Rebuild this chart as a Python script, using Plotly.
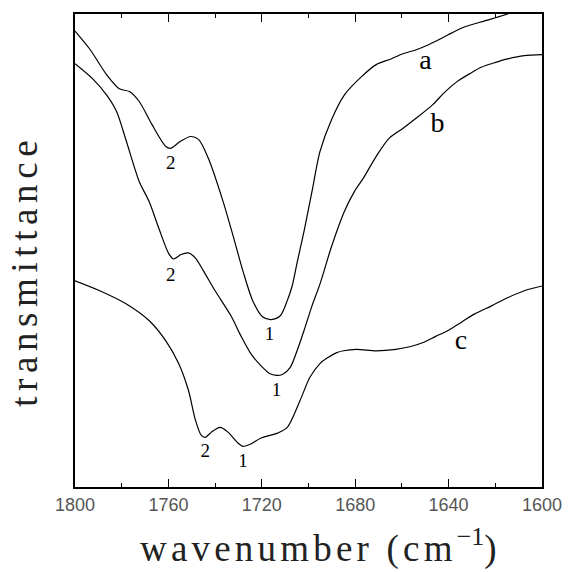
import plotly.graph_objects as go

# Spectra (wavenumber in cm^-1, transmittance in arbitrary units 0-100)
a_wn = [1800, 1793.7, 1786.5, 1781.0, 1776.7, 1772.5, 1767.0, 1761.1, 1759.0, 1754.8, 1750.5, 1747.1,
        1742.9, 1736.6, 1732.3, 1728.1, 1723.9, 1719.7, 1715.9, 1712.1, 1709.1, 1707.0, 1704.9, 1701.9,
        1698.5, 1695.1, 1690.1, 1684.6, 1677.4, 1671.0, 1664.7, 1659.6, 1654.1, 1648.6, 1643.6, 1640.2,
        1633.0, 1623.3, 1614.8, 1607.6, 1600]
a_t = [96.4, 92.6, 87.2, 84.2, 83.6, 81.5, 76.6, 72.0, 71.6, 73.1, 74.1, 73.5,
       69.5, 60.4, 53.1, 45.7, 39.4, 36.0, 35.4, 36.2, 39.4, 42.5, 47.4, 54.1,
       62.5, 70.9, 77.7, 82.9, 86.7, 89.3, 90.5, 91.6, 92.4, 93.5, 94.7, 95.6,
       97.3, 98.7, 100.0, 101.3, 102.5]

b_wn = [1800, 1792.4, 1786.5, 1782.2, 1778.0, 1772.5, 1768.3, 1764.1, 1759.8, 1757.7, 1754.8, 1751.4,
        1748.4, 1745.0, 1740.0, 1733.2, 1729.0, 1724.7, 1720.5, 1716.7, 1713.7, 1711.2, 1707.8, 1704.9,
        1701.9, 1698.5, 1695.1, 1690.1, 1684.6, 1680.3, 1676.5, 1671.0, 1665.5, 1659.6, 1654.1, 1646.9,
        1641.4, 1636.4, 1630.9, 1625.8, 1620.3, 1614.8, 1607.6, 1600]
b_t = [89.5, 86.3, 82.9, 79.4, 73.1, 64.6, 60.4, 54.7, 49.3, 48.2, 49.1, 49.5,
       48.4, 45.7, 41.5, 36.2, 32.0, 28.2, 25.7, 24.0, 23.6, 23.8, 25.3, 28.8,
       33.1, 38.3, 42.9, 50.9, 58.3, 62.5, 65.3, 69.9, 73.7, 75.8, 77.9, 80.8,
       83.6, 85.7, 87.4, 88.8, 89.7, 90.5, 91.2, 91.4]

c_wn = [1800, 1789.4, 1778.0, 1768.3, 1761.1, 1755.6, 1751.4, 1748.4, 1745.9, 1744.2, 1741.6, 1737.8,
        1734.5, 1730.2, 1728.1, 1724.7, 1720.5, 1713.3, 1709.1, 1703.6, 1699.4, 1695.1, 1692.2, 1687.9,
        1685.0, 1679.5, 1671.0, 1662.6, 1656.2, 1651.2, 1645.7, 1640.2, 1634.3, 1628.8, 1621.6, 1614.8,
        1607.6, 1600]
c_t = [43.6, 41.5, 38.7, 35.2, 30.9, 26.1, 20.4, 14.1, 10.9, 10.5, 11.6, 12.6,
       11.6, 9.3, 8.6, 9.1, 10.3, 11.4, 12.6, 18.3, 23.2, 26.1, 27.2, 28.4,
       28.8, 29.1, 28.8, 29.1, 29.7, 30.5, 31.8, 33.1, 34.9, 36.6, 38.3, 40.0,
       41.5, 42.5]

# Curve letters and band labels
curve_names = ["a", "b", "c"]
curve_label_wn = [1649.9, 1644.8, 1634.7]
curve_label_t = [89.9, 76.6, 30.7]

band_names = ["2", "2", "2", "1", "1", "1"]
band_wn = [1759.0, 1759.0, 1744.2, 1716.7, 1713.7, 1728.1]
band_t = [68.2, 44.6, 7.4, 32.0, 20.2, 5.3]

x_ticks = [1800, 1760, 1720, 1680, 1640, 1600]

fig = go.Figure()
for wn, t in [(a_wn, a_t), (b_wn, b_t), (c_wn, c_t)]:
    fig.add_trace(go.Scatter(x=wn, y=t, mode="lines",
                             line=dict(color="black", width=1.2, shape="spline", smoothing=0.8),
                             showlegend=False, hoverinfo="skip"))

fig.add_trace(go.Scatter(x=curve_label_wn, y=curve_label_t, mode="text", text=curve_names,
                         textfont=dict(family="Liberation Serif", size=28, color="black"),
                         showlegend=False, hoverinfo="skip"))
fig.add_trace(go.Scatter(x=band_wn, y=band_t, mode="text", text=band_names,
                         textfont=dict(family="Liberation Serif", size=19, color="black"),
                         showlegend=False, hoverinfo="skip"))

title_font = dict(family="Liberation Serif", size=37, color="#222222")

fig.add_annotation(xref="paper", yref="paper", x=0.522, y=-0.179,
                   xanchor="center", yanchor="bottom", showarrow=False,
                   text='<span style="letter-spacing:4.2px">wavenumber (cm</span><sup>−1</sup>)',
                   font=title_font)
fig.add_annotation(xref="paper", yref="paper", x=-0.107, y=0.457,
                   xanchor="center", yanchor="middle", showarrow=False, textangle=-90,
                   text='<span style="letter-spacing:5.6px">transmittance</span>',
                   font=title_font)

fig.update_xaxes(range=[1800, 1600], tickvals=x_ticks, ticktext=[str(v) for v in x_ticks],
                 ticks="inside", ticklen=8, tickwidth=1, tickcolor="black",
                 minor=dict(dtick=20, ticks="inside", ticklen=4, tickwidth=1, tickcolor="black"),
                 showline=True, linewidth=2, linecolor="black", mirror="ticks",
                 showgrid=False, zeroline=False,
                 tickfont=dict(family="Liberation Sans", size=18, color="#555555"))
fig.update_yaxes(range=[0, 100], showticklabels=False, ticks="",
                 showline=True, linewidth=2, linecolor="black", mirror=True,
                 showgrid=False, zeroline=False)

fig.update_layout(width=574, height=572, margin=dict(l=75, r=26, t=12, b=85),
                  plot_bgcolor="white", paper_bgcolor="white")

fig.write_html("out.html")
